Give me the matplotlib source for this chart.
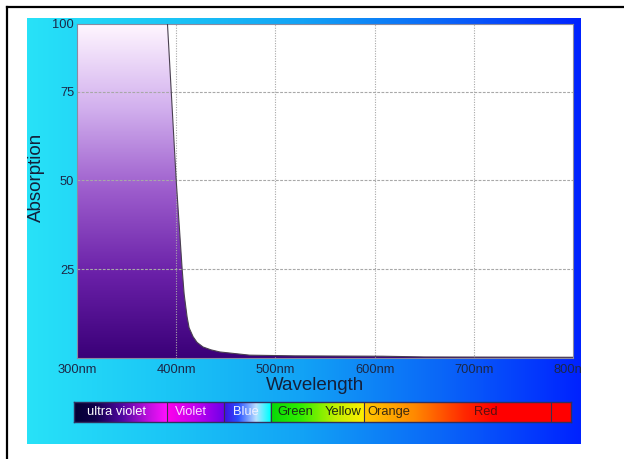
import numpy as np
import matplotlib
matplotlib.use('Agg')
import matplotlib.pyplot as plt
from matplotlib.colors import LinearSegmentedColormap, to_rgb

plt.rcParams['font.family'] = ['Liberation Sans', 'DejaVu Sans']

# absorption curve (nm, absorption)
wavelength = [300, 390, 395, 400, 406, 408, 411, 413, 417, 421, 427, 435, 444, 474, 520, 608, 650, 800]
absorption = [100, 100, 75, 50, 25, 18, 11.5, 8.5, 6, 4.4, 3.1, 2.3, 1.7, 0.8, 0.6, 0.5, 0.3, 0.2]

x_ticks = [300, 400, 500, 600, 700, 800]
x_labels = ['300nm', '400nm', '500nm', '600nm', '700nm', '800nm']
y_top = 94  # value at the top edge of the plot, labelled "100"
y_ticks = [25, 50, 75, y_top]
y_labels = ['25', '50', '75', '100']

# colour band under the chart
band_edges = [297, 391, 448, 495, 589, 777, 797]
band_text = ['ultra violet', 'Violet', 'Blue', 'Green', 'Yellow', 'Orange', 'Red']
band_text_nm = [340, 415, 470, 519.5, 567.5, 592, 711]
band_text_col = ['white', '#ffd8ff', '#f0f0ff', '#183018', '#202810', '#3a2a10', '#5a1010']

W, H = 624, 459
fig = plt.figure(figsize=(W / 100, H / 100), dpi=100)
fig.patch.set_facecolor('white')


def box(x0, y0, x1, y1):
    # pixel box (top-left origin) -> figure rect
    return [x0 / W, 1 - y1 / H, (x1 - x0) / W, (y1 - y0) / H]


def fx(x):
    return x / W


def fy(y):
    return 1 - y / H


# outer frame (only top and left visible)
fig.add_artist(plt.Line2D([fx(7), 1], [fy(7), fy(7)], color='black', lw=1.6))
fig.add_artist(plt.Line2D([fx(7), fx(7)], [0, fy(7)], color='black', lw=1.6))

# blue gradient panel
bg = fig.add_axes(box(27, 18, 581, 444))
bg_cmap = LinearSegmentedColormap.from_list('bg', [
    (0.0, '#28e2f8'), (0.25, '#1bc6f6'), (0.5, '#12a2f5'),
    (0.75, '#0a66f8'), (1.0, '#0022ff')])
bg.imshow(np.linspace(0, 1, 256)[None, :], cmap=bg_cmap, aspect='auto',
          extent=(0, 1, 0, 1))
bg.set_axis_off()

# main plot
ax = fig.add_axes(box(77, 24, 573, 358))
ax.set_facecolor('white')
ax.set_xlim(300, 800)
ax.set_ylim(0, y_top)

fill_cmap = LinearSegmentedColormap.from_list('fill', [
    (0.0, '#3a0078'), (0.25, '#6a20a8'), (0.5, '#9c5ccc'),
    (0.75, '#d2b0ee'), (1.0, '#fff6ff')])
img = ax.imshow(np.linspace(0, 1, 256)[:, None], cmap=fill_cmap, origin='lower',
                aspect='auto', extent=(300, 800, 0, y_top), zorder=1)
poly = ax.fill_between(wavelength, absorption, 0, color='none', lw=0)
img.set_clip_path(poly.get_paths()[0], transform=ax.transData)
ax.plot(wavelength, absorption, color='#4a4050', lw=0.8, zorder=3)

ax.set_xticks(x_ticks)
ax.set_xticklabels(x_labels)
ax.set_yticks(y_ticks)
ax.set_yticklabels(y_labels)
ax.tick_params(length=0, labelsize=9.3, colors='#1c2848')
ax.tick_params(axis='x', pad=4)
ax.tick_params(axis='y', pad=2)
for lab in ax.get_xticklabels():
    lab.set_clip_on(True)
    lab.set_clip_box(bg.bbox)
for x in x_ticks[1:-1]:
    ax.axvline(x, color='#a8a8a8', lw=0.8, ls=(0, (1, 1.3)), zorder=2)
for y in y_ticks[:-1]:
    ax.axhline(y, color='#a8a8a8', lw=0.8, ls=(0, (2.5, 1.3)), zorder=2)
for s in ax.spines.values():
    s.set_color('#8a8aa0')
    s.set_linewidth(0.8)

fig.text(fx(315), fy(386), 'Wavelength', fontsize=13.5, color='#14203a',
         ha='center', va='center')
fig.text(fx(36), fy(177), 'Absorption', fontsize=13.5, color='#14203a',
         ha='center', va='center', rotation=90)

# spectrum band
bar = fig.add_axes(box(74, 402, 571, 422))
bar.set_xlim(band_edges[0], band_edges[-1])
bar.set_ylim(0, 1)
stops = [
    (297, '#040034'), (318, '#10004a'), (345, '#5008a0'), (372, '#c010e0'), (390, '#ff10ff'),
    (391, '#ff00ec'), (420, '#c000f0'), (447, '#7000e8'),
    (448, '#4010e0'), (462, '#2a50ff'), (480, '#b8e0ff'), (494, '#00ffff'),
    (495, '#08d808'), (525, '#30ee00'), (560, '#c0f000'), (588, '#ffee00'),
    (589, '#ffc800'), (640, '#ff8800'), (690, '#ff2800'), (720, '#ff0000'),
    (797, '#ff0000')]
nm = np.arange(band_edges[0], band_edges[-1], 0.5)
sx = [s[0] for s in stops]
rgb = np.array([to_rgb(s[1]) for s in stops])
cols = np.stack([np.interp(nm, sx, rgb[:, k]) for k in range(3)], axis=-1)
bar.imshow(cols[None, :, :], aspect='auto',
           extent=(band_edges[0], band_edges[-1], 0, 1))
for e in band_edges[1:-1]:
    bar.axvline(e, color='#3a3050', lw=0.8)
for s in bar.spines.values():
    s.set_color('#303060')
    s.set_linewidth(1.0)
bar.set_xticks([])
bar.set_yticks([])
for t, x, c in zip(band_text, band_text_nm, band_text_col):
    ha = 'left' if t == 'Orange' else 'center'
    bar.text(x, 0.5, t, color=c, fontsize=9.3, ha=ha, va='center')

fig.savefig('out.png', dpi=100)
